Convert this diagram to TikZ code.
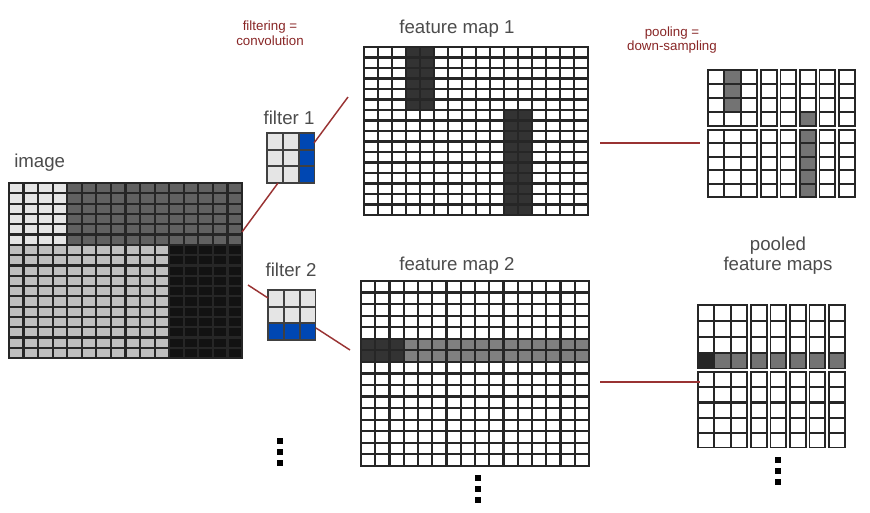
\documentclass[tikz,border=0pt]{standalone}
\usepackage{fontspec}
\setmainfont{Liberation Sans}
\newcommand\mycells[9]{% x0 y0 cw ch i0 i1 j0 j1 color
  \foreach \ii in {#5,...,#6}{\foreach \jj in {#7,...,#8}{
    \fill[#9] ({#1+\ii*#3+1.1},{#2+\jj*#4+1.1}) rectangle ({#1+(\ii+1)*#3-1.1},{#2+(\jj+1)*#4-1.1});}}}
\begin{document}
\begin{tikzpicture}[x=0.75pt,y=-0.75pt,
  lbl/.style={text=black!70,font=\fontsize{14}{15}\selectfont,inner sep=0pt},
  note/.style={text=red!45!black!85,font=\fontsize{10}{11}\selectfont,align=center,inner sep=0pt},
  conn/.style={draw=red!50!black!80,line width=1.1pt},
  dotc/.style={fill=black}]
\useasboundingbox (0,0) rectangle (870,512);
% ---------- image ----------
\fill[black!85] (8,182) rectangle (243,359);
\mycells{9}{183}{14.56}{10.3}{0}{3}{0}{5}{black!10}
\mycells{9}{183}{14.56}{10.3}{4}{15}{0}{5}{black!62}
\mycells{9}{183}{14.56}{10.3}{0}{10}{6}{16}{black!25}
\mycells{9}{183}{14.56}{10.3}{11}{15}{6}{16}{black!93}
\coordinate (imgA) at (242,232);
\coordinate (imgB) at (248,285);
\node[lbl,anchor=west] (imglbl) at (14,163) {image};
% ---------- feature map 1 ----------
\fill[black!85] (363,46) rectangle (589,216);
\mycells{364}{47}{14}{10.5}{0}{15}{0}{15}{white}
\mycells{364}{47}{14}{10.5}{3}{4}{0}{5}{black!80}
\mycells{364}{47}{14}{10.5}{10}{11}{6}{15}{black!80}
\node[lbl] (fm1) at (457,29) {feature map 1};
\coordinate (fm1in) at (348,97);
\coordinate (fm1out) at (600,143);
% ---------- feature map 2 ----------
\fill[black!85] (360,280) rectangle (590,467);
\mycells{361}{281}{14.25}{11.55}{0}{15}{0}{15}{white}
\mycells{361}{281}{14.25}{11.55}{0}{2}{5}{6}{black!80}
\mycells{361}{281}{14.25}{11.55}{3}{15}{5}{6}{black!50}
\node[lbl] (fm2) at (457,266) {feature map 2};
\coordinate (fm2in) at (350,350);
\coordinate (fm2out) at (600,382);
% ---------- filters ----------
\fill[black!75] (266,132) rectangle (315,184);
\mycells{267}{133}{16}{16.67}{0}{1}{0}{2}{black!10}
\mycells{267}{133}{16}{16.67}{2}{2}{0}{2}{blue!60!cyan!70!black}
\node[lbl] (f1) at (289,118) {filter 1};
\coordinate (f1in) at (278,183);
\coordinate (f1out) at (314,143);
\fill[black!75] (267,289) rectangle (316,341);
\mycells{268}{290}{16}{16.67}{0}{2}{0}{1}{black!10}
\mycells{268}{290}{16}{16.67}{0}{2}{2}{2}{blue!60!cyan!70!black}
\node[lbl] (f2) at (291,270) {filter 2};
\coordinate (f2in) at (268,298);
\coordinate (f2out) at (316,328);
% ---------- pooled 1 ----------
\fill[black!85] (707,69) rectangle (758,126.5);
\fill[black!85] (707,128.5) rectangle (758,198);
\foreach \cx in {760,779.5,799,818.5,838}{
  \fill[black!85] (\cx,69) rectangle ++(17.5,57.5);
  \fill[black!85] (\cx,128.5) rectangle ++(17.5,69.5);}
\foreach \cx/\cw in {708/16.33,724.33/16.33,740.67/16.33,760.5/16.5,780/16.5,799.5/16.5,819/16.5,838.5/16.5}{
  \foreach \r in {0,...,3} \fill[white] (\cx+1.1,70+\r*14+1.1) rectangle ++(\cw-2.2,14-2.2);
  \foreach \r in {0,...,4} \fill[white] (\cx+1.1,129.5+\r*13.6+1.1) rectangle ++(\cw-2.2,13.6-2.2);}
\foreach \r in {0,1,2} \fill[black!55] (724.33+1.1,70+\r*14+1.1) rectangle ++(14.1,11.8);
\fill[black!55] (799.5+1.1,70+3*14+1.1) rectangle ++(14.3,11.8);
\foreach \r in {0,...,4} \fill[black!55] (799.5+1.1,129.5+\r*13.6+1.1) rectangle ++(14.3,11.4);
\coordinate (p1in) at (700,143);
% ---------- pooled 2 ----------
\fill[black!85] (697,304) rectangle (748,369);
\fill[black!85] (697,371) rectangle (748,448);
\foreach \cx in {750,769.5,789,808.5,828}{
  \fill[black!85] (\cx,304) rectangle ++(17.5,65);
  \fill[black!85] (\cx,371) rectangle ++(17.5,77);}
\foreach \cx/\cw in {698/16.33,714.33/16.33,730.67/16.33,750.5/16.5,770/16.5,789.5/16.5,809/16.5,828.5/16.5}{
  \foreach \r in {0,1,2} \fill[white] (\cx+1.1,305+\r*16+1.1) rectangle ++(\cw-2.2,16-2.2);
  \fill[black!55] (\cx+1.1,305+3*16+1.1) rectangle ++(\cw-2.2,16-2.2);
  \foreach \r in {0,...,4} \fill[white] (\cx+1.1,372+\r*15.2+1.1) rectangle ++(\cw-2.2,15.2-2.2);}
\fill[black!85] (698+1.1,305+3*16+1.1) rectangle ++(14.1,13.8);
\coordinate (p2in) at (700,382);
\node[lbl,align=center] (plbl) at (778,256) {pooled\\feature maps};
% ---------- connectors ----------
\draw[conn] (imgA) -- (f1in);
\draw[conn] (f1out) -- (fm1in);
\draw[conn] (imgB) -- (f2in);
\draw[conn] (f2out) -- (fm2in);
\draw[conn] (fm1out) -- (p1in);
\draw[conn] (fm2out) -- (p2in);
% ---------- notes ----------
\node[note] (n1) at (270,33) {filtering =\\convolution};
\node[note] (n2) at (672,40) {pooling =\\down-sampling};
% ---------- dots ----------
\foreach \n/\x/\y in {a/280/441,b/280/452,c/280/463,d/478/478,e/478/489,f/478/500,g/778/460,h/778/471,i/778/482}
  \node[dotc,inner sep=0pt,minimum size=4pt] (dot\n) at (\x,\y) {};
\end{tikzpicture}
\end{document}
